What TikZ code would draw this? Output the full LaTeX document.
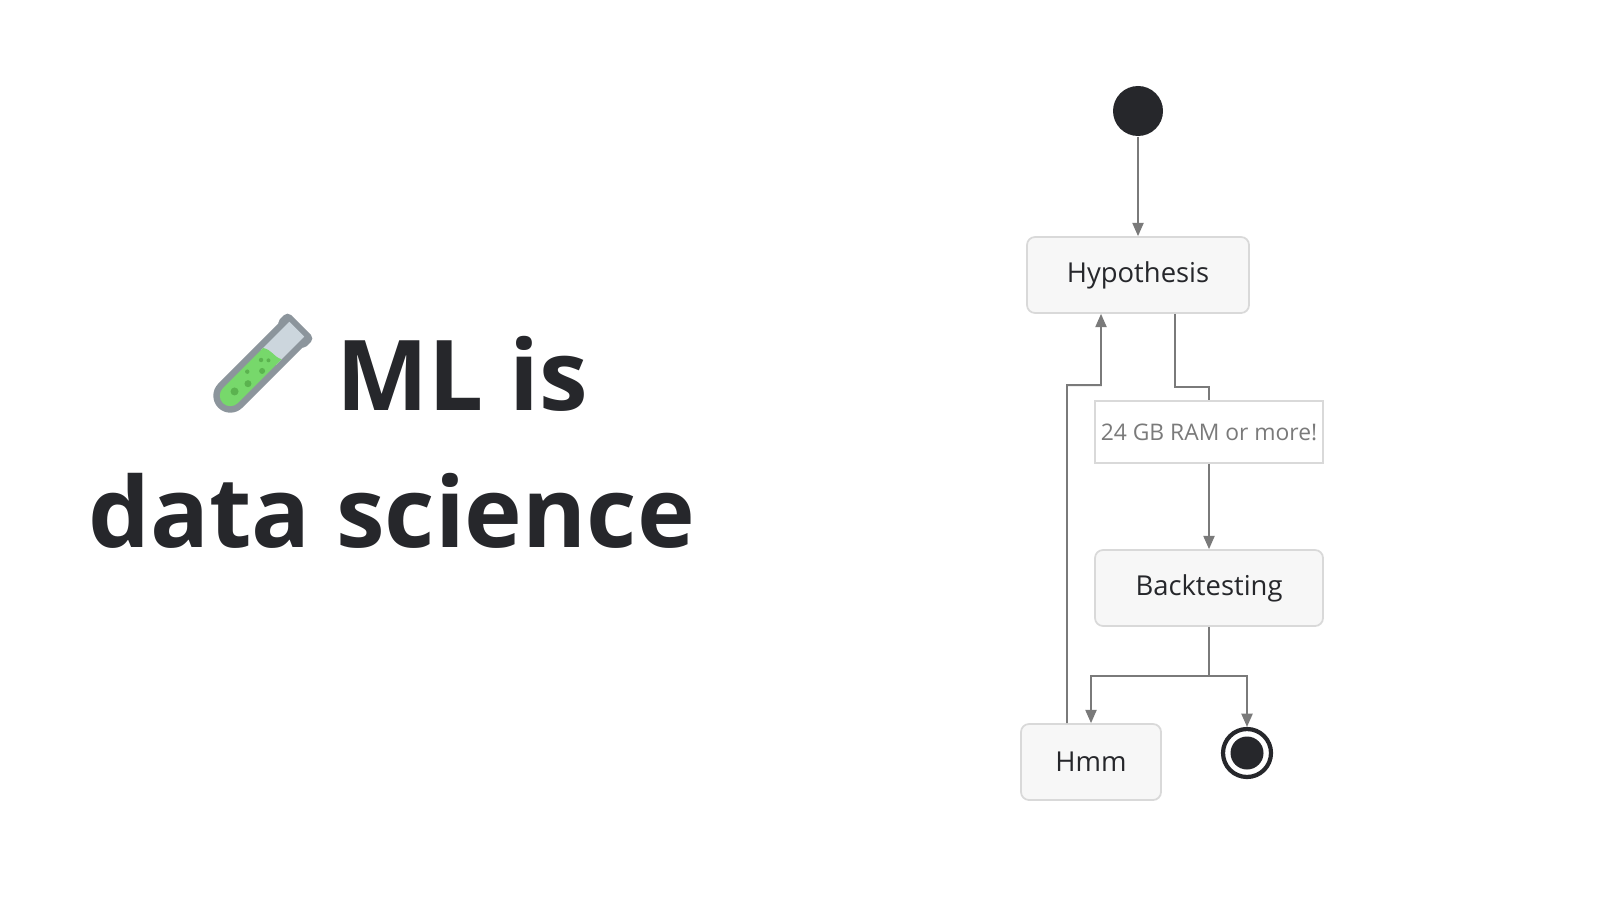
\documentclass[tikz,border=0pt]{standalone}
\usepackage{fontspec}
\setmainfont{Open Sans}
\usetikzlibrary{positioning, calc, arrows.meta}
\definecolor{inkdark}{HTML}{26272B}
\definecolor{boxfill}{HTML}{F7F7F7}
\definecolor{boxline}{HTML}{D9D9D9}
\definecolor{edgegray}{HTML}{7A7A7A}
\definecolor{tubegray}{HTML}{8C959C}
\definecolor{tubeglass}{HTML}{CCD6DD}
\definecolor{tubegreen}{HTML}{77D86B}
\definecolor{tubedot}{HTML}{5BB34F}

\tikzset{
	state/.style={draw=boxline, fill=boxfill, rounded corners=0.08cm, line width=0.5pt,
		minimum height=0.76cm, text=inkdark, font=\fontsize{7.8}{8}\selectfont, inner sep=0pt},
	edgelabel/.style={draw=boxline, fill=white, line width=0.5pt, minimum width=2.28cm,
		minimum height=0.62cm, text=edgegray, font=\fontsize{6.5}{7}\selectfont, inner sep=0pt},
	flow/.style={draw=edgegray, line width=0.5pt, -{Triangle[width=3.2pt,length=3.8pt]}},
	plain/.style={draw=edgegray, line width=0.5pt},
	title/.style={text=inkdark, font=\fontsize{27.8}{32}\bfseries\selectfont, inner sep=0pt}
}

\begin{document}
\begin{tikzpicture}
	\useasboundingbox (0,0) rectangle (16,9);

	% title
	\node[title, anchor=base west] (ml) at (3.36,4.90) {ML is};
	\node[title, anchor=base west] (ds) at (0.88,3.53) {data science};

	% test tube
	\begin{scope}[shift={(2.60,5.34)}, rotate=45]
		\fill[tubegray, rounded corners=0.05cm] (0.42,-0.19) rectangle (0.58,0.19);
		\fill[tubegray] (-0.42,-0.17) arc (270:90:0.17) -- (0.47,0.17) -- (0.47,-0.17) -- cycle;
		\fill[tubeglass] (0.12,-0.105) rectangle (0.52,0.105);
		\fill[tubegreen] (-0.42,-0.105) arc (270:90:0.105) -- (0.15,0.105)
			.. controls (0.20,0.03) and (0.16,-0.03) .. (0.20,-0.105) -- cycle;
		\foreach \p/\r in {{(-0.36,0)}/0.04, {(-0.21,-0.04)}/0.035, {(-0.13,0.05)}/0.022,
			{(-0.02,-0.05)}/0.03, {(0.05,0.035)}/0.022, {(0.10,-0.02)}/0.02}
			\fill[tubedot] \p circle (\r);
	\end{scope}

	% states
	\node[circle, fill=inkdark, minimum size=0.50cm, inner sep=0pt] (start) at (11.38,7.89) {};
	\node[state, minimum width=2.22cm] (hyp) at (11.38,6.25) {Hypothesis};
	\node[edgelabel] (ram) at (12.09,4.68) {24 GB RAM or more!};
	\node[state, minimum width=2.28cm] (back) at (12.09,3.12) {Backtesting};
	\node[state, minimum width=1.40cm] (hmm) at (10.91,1.38) {Hmm};
	\node[circle, draw=inkdark, line width=1.2pt, fill=white, minimum size=0.48cm, inner sep=0pt] (stop) at (12.47,1.47) {};
	\fill[inkdark] (stop.center) circle (0.165);

	% connectors
	\draw[flow] (start) -- (hyp);
	\draw[plain] ($(hyp.south)+(0.37,0)$) |- ++(0.34,-0.73) -- (ram.north);
	\draw[flow] (ram) -- (back);
	\coordinate (fork) at ($(back.south)+(0,-0.49)$);
	\draw[plain] (back.south) -- (fork);
	\draw[flow] (fork) -| (hmm.north);
	\draw[flow] (fork) -| (stop.north);
	\draw[flow] ($(hmm.north)+(-0.24,0)$) |- ++(0.34,3.38) -- ($(hyp.south)+(-0.37,0)$);
\end{tikzpicture}
\end{document}
